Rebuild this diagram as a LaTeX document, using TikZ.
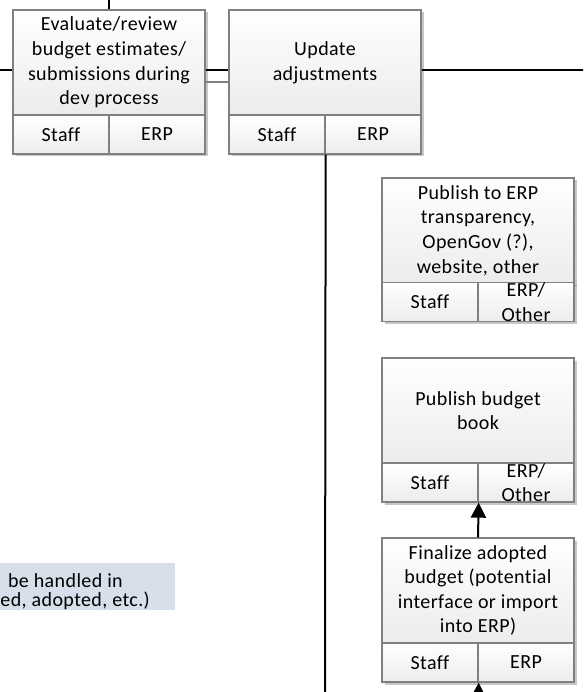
\documentclass[tikz,border=0pt]{standalone}
\usepackage{fontspec}
\setmainfont{Carlito}[LetterSpace=2, Ligatures=CommonOff]
\usetikzlibrary{arrows.meta,shadows}
\definecolor{boxline}{RGB}{128,128,128}
\definecolor{boxlow}{RGB}{236,236,236}
\definecolor{noteblue}{RGB}{214,223,234}
\begin{document}
\begin{tikzpicture}[x=1pt,y=-1pt,
  txt/.style={font=\fontsize{20pt}{24.6pt}\selectfont, align=center, text=black},
  boxshadow/.style={drop shadow={shadow xshift=2.5pt, shadow yshift=-2.5pt, fill=black, opacity=0.22}},
  boxtop/.style={txt, draw=boxline, line width=1.3pt, top color=white, bottom color=boxlow,
    minimum width=192pt, minimum height=105pt, inner sep=2pt, boxshadow},
  cell/.style={txt, draw=boxline, line width=1.3pt, top color=white, bottom color=boxlow,
    minimum width=96pt, minimum height=39pt, inner sep=0pt, boxshadow},
  celltext/.style={txt, inner sep=0pt},
  notebox/.style={fill=noteblue, draw=none, minimum width=240pt, minimum height=47pt, inner sep=0pt},
  notetext/.style={txt, inner sep=0pt},
  conn/.style={draw=black, line width=2pt},
  grayconn/.style={draw=boxline, line width=1.5pt},
  arr/.style={conn, -{Triangle[length=15pt,width=15pt]}},
]
\clip (0,0) rectangle (583,692);

% note box (clipped on the left)
\node[notebox] (note) at (55,586) {};
\node[notetext, anchor=base east] (n1) at (123,587) {be handled in};
\node[notetext, anchor=base east] (n2) at (150,606) {ed, adopted, etc.)};

% box 1
\node[boxtop] (b1) at (109,62.5) {Evaluate/review\\budget estimates/\\submissions during\\dev process};
\node[cell] (b1s) at (61,134.5) {Staff};
\node[cell] (b1e) at (157,134.5) {ERP};

% box 2
\node[boxtop] (b2) at (325,62.5) {Update\\adjustments};
\node[cell] (b2s) at (277,134.5) {Staff};
\node[cell] (b2e) at (373,134.5) {ERP};

% box 3
\node[boxtop] (b3) at (478,230.5) {Publish to ERP\\transparency,\\OpenGov (?),\\website, other};
\node[cell] (b3s) at (430,302) {Staff};
\node[cell] (b3e) at (526,302) {};
\node[celltext] (b3et) at (b3e) {ERP/\\Other};

% box 4
\node[boxtop] (b4) at (478,410.5) {Publish budget\\book};
\node[cell] (b4s) at (430,482.5) {Staff};
\node[cell] (b4e) at (526,482.5) {};
\node[celltext] (b4et) at (b4e) {ERP/\\Other};

% box 5
\node[boxtop] (b5) at (478,590.5) {Finalize adopted\\budget (potential\\interface or import\\into ERP)};
\node[cell] (b5s) at (430,662.5) {Staff};
\node[cell] (b5e) at (526,662.5) {ERP};

% free ends
\coordinate (topin) at (109,-5);
\coordinate (leftin) at (-5,70);
\coordinate (mid1) at (217,70);
\coordinate (mid2) at (217,82);
\coordinate (rightout) at (590,70);
\coordinate (downout) at (325,700);
\coordinate (upin) at (478,725);

% connectors
\draw[conn] (topin) -- (b1.north);
\draw[conn] (leftin) -- (leftin -| b1.west);
\draw[conn] (mid1 -| b1.east) -- (mid1 -| b2.west);
\draw[grayconn] (mid2 -| b1.east) -- (mid2 -| b2.west);
\draw[conn] (rightout -| b2.east) -- (rightout);
\draw[conn] (b2s.south east) -- (downout);
\draw[arr] (b5.north) -- (b4s.south east);
\draw[arr] (upin) -- (b5s.south east);
\end{tikzpicture}
\end{document}
